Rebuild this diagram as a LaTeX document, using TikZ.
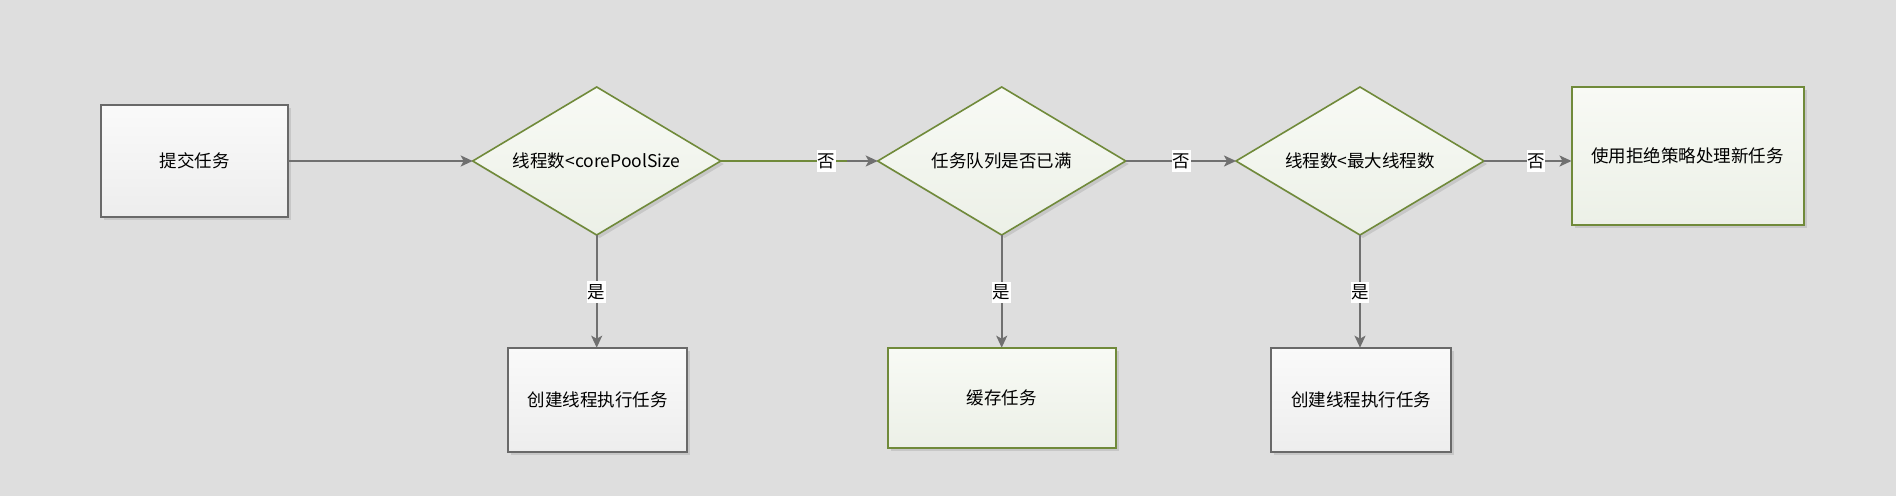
\documentclass[tikz,border=0pt]{standalone}
\usepackage{fontspec}
\setmainfont{Noto Sans CJK SC}
\usetikzlibrary{arrows.meta,shadows,backgrounds}
\definecolor{bg}{RGB}{222,222,222}
\definecolor{grayedge}{RGB}{105,105,105}
\definecolor{greenedge}{RGB}{112,138,58}
\definecolor{arrowgray}{RGB}{112,112,112}
\definecolor{gtop}{RGB}{250,250,250}
\definecolor{gbot}{RGB}{237,237,237}
\definecolor{vtop}{RGB}{248,250,245}
\definecolor{vbot}{RGB}{236,240,231}
\tikzset{
  txt/.style={outer sep=0pt, inner sep=0pt, font=\fontsize{17.5}{21}\selectfont},
  base/.style={txt, drop shadow={shadow xshift=3pt, shadow yshift=-3pt, fill=black, opacity=0.10}},
  graybox/.style={base, rectangle, draw=grayedge, line width=2pt, top color=gtop, bottom color=gbot},
  greenbox/.style={base, rectangle, draw=greenedge, line width=2pt, top color=vtop, bottom color=vbot},
  decision/.style={txt, rectangle, minimum width=248pt, minimum height=148pt},
  diamondshape/.style={draw=greenedge, line width=1.6pt, line join=miter, top color=vtop, bottom color=vbot,
    drop shadow={shadow xshift=3pt, shadow yshift=-3pt, fill=black, opacity=0.10}},
  arr/.style={draw=arrowgray, line width=2pt, -{Stealth[length=12pt,width=11pt,inset=3pt]}},
  lbl/.style={fill=white, inner xsep=0.5pt, inner ysep=3pt, font=\fontsize{17.5}{21}\selectfont, text=black}
}
\begin{document}
\begin{tikzpicture}[x=1pt,y=-1pt]
\useasboundingbox (0,0) rectangle (1896,496);

\node[graybox, minimum width=187pt, minimum height=112pt] (b0) at (194.5,161) {提交任务};
\node[decision] (d1) at (596.7,161) {线程数<corePoolSize};
\node[decision] (d2) at (1001.7,161) {任务队列是否已满};
\node[decision] (d3) at (1360,161) {线程数<最大线程数};
\node[greenbox, minimum width=232pt, minimum height=138pt] (b4) at (1687.5,156) {使用拒绝策略处理新任务};
\node[graybox, minimum width=179pt, minimum height=104.6pt] (c1) at (597.7,400) {创建线程执行任务};
\node[greenbox, minimum width=228pt, minimum height=100pt] (c2) at (1001.8,397.7) {缓存任务};
\node[graybox, minimum width=179.4pt, minimum height=104.6pt] (c3) at (1361,400) {创建线程执行任务};

\begin{scope}[on background layer]
\fill[bg] (0,0) rectangle (1896,496);
\path[diamondshape] (d1.north) -- (d1.east) -- (d1.south) -- (d1.west) -- cycle;
\path[diamondshape] (d2.north) -- (d2.east) -- (d2.south) -- (d2.west) -- cycle;
\path[diamondshape] (d3.north) -- (d3.east) -- (d3.south) -- (d3.west) -- cycle;
\end{scope}

\coordinate (g1) at (847,161);

\draw[arr] (b0.east) -- (d1.west);
\draw[arr] (d1.east) -- (d2.west);
\draw[draw=greenedge, line width=2pt] (d1.east) -- (g1);
\node[lbl] at (826.7,161) {否};
\draw[arr] (d2.east) -- node[lbl, pos=0.508] {否} (d3.west);
\draw[arr] (d3.east) -- node[lbl, pos=0.595] {否} (d3.east -| b4.west);
\draw[arr] (d1.south) -- node[lbl, pos=0.505] {是} (d1.south |- c1.north);
\draw[arr] (d2.south) -- node[lbl, pos=0.51] {是} (d2.south |- c2.north);
\draw[arr] (d3.south) -- node[lbl, pos=0.51] {是} (d3.south |- c3.north);
\end{tikzpicture}
\end{document}
